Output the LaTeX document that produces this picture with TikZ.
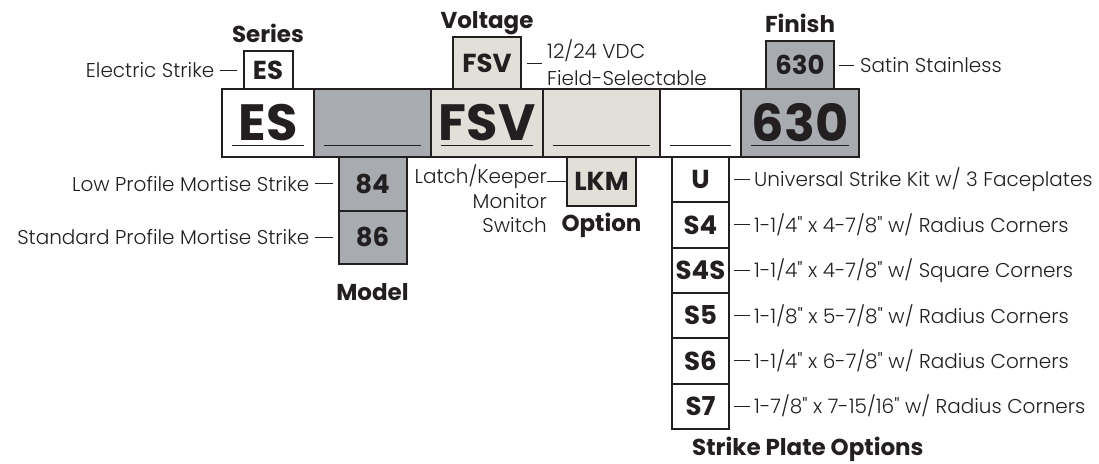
\documentclass[tikz,border=0pt]{standalone}
\usepackage{fontspec}
\setmainfont{Poppins}
\newfontfamily\lightfont{Poppins Light}
\usetikzlibrary{positioning}
\definecolor{partGray}{HTML}{A8ACB1}
\definecolor{partBeige}{HTML}{E0DFD8}
\definecolor{partInk}{HTML}{231F20}

\begin{document}
\begin{tikzpicture}[x=1pt, y=1pt, node distance=0pt,
    cell/.style={draw=partInk, line width=2pt, outer sep=0pt, inner sep=0pt,
      minimum height=68pt, text=partInk, font=\bfseries\fontsize{51}{51}\selectfont},
    pick/.style={draw=partInk, line width=2pt, outer sep=0pt, inner sep=0pt,
      text=partInk, font=\bfseries\fontsize{26}{26}\selectfont},
    head/.style={inner sep=0pt, text=partInk, font=\bfseries\fontsize{23}{23}\selectfont},
    note/.style={inner sep=0pt, text=partInk, font=\lightfont\fontsize{20}{24.5}\selectfont},
    tick/.style={draw=partInk, line width=1pt}]
  \fill[white] (0,0) rectangle (1099,-463);
  \useasboundingbox (0,0) rectangle (1099,-463);

  % part number row
  \node[cell, fill=white, minimum width=92pt, anchor=north west] (es) at (222,-89) {ES};
  \node[cell, fill=partGray, minimum width=117pt, right=of es] (model) {};
  \node[cell, fill=partBeige, minimum width=112pt, right=of model] (volt) {FSV};
  \node[cell, fill=partBeige, minimum width=117pt, right=of volt] (option) {};
  \node[cell, fill=white, minimum width=81pt, right=of option] (strike) {};
  \node[cell, fill=partGray, minimum width=118pt, right=of strike] (finish) {630};
  \foreach \c in {es, model, volt, option, strike, finish}
    \draw[partInk, line width=1pt] ([xshift=10pt, yshift=12pt]\c.south west)
      -- ([xshift=-10pt, yshift=12pt]\c.south east);

  % choices above the row
  \node[pick, fill=white, minimum width=49pt, minimum height=38pt, above=of es] (esPick) {ES};
  \node[pick, fill=partBeige, minimum width=68pt, minimum height=52pt, above=of volt] (voltPick) {FSV};
  \node[pick, fill=partGray, minimum width=68pt, minimum height=48pt, above=of finish] (finishPick) {630};

  % choices below the row
  \node[pick, fill=partGray, minimum width=68pt, minimum height=53.5pt, below=of model] (m84) {84};
  \node[pick, fill=partGray, minimum width=68pt, minimum height=53.5pt, below=of m84] (m86) {86};
  \node[pick, fill=partBeige, minimum width=69pt, minimum height=49pt, below=of option] (lkm) {LKM};
  \node[pick, fill=white, minimum width=57pt, minimum height=45.3pt, below=of strike] (sU) {U};
  \node[pick, fill=white, minimum width=57pt, minimum height=45.3pt, below=of sU] (sS4) {S4};
  \node[pick, fill=white, minimum width=57pt, minimum height=45.3pt, below=of sS4] (sS4S) {S4S};
  \node[pick, fill=white, minimum width=57pt, minimum height=45.3pt, below=of sS4S] (sS5) {S5};
  \node[pick, fill=white, minimum width=57pt, minimum height=45.3pt, below=of sS5] (sS6) {S6};
  \node[pick, fill=white, minimum width=57pt, minimum height=45.3pt, below=of sS6] (sS7) {S7};

  % headings
  \node[head, above=9pt of esPick.north, anchor=base] (seriesHead) {Series};
  \node[head, above=9pt of voltPick.north, anchor=base] (voltHead) {Voltage};
  \node[head, above=9pt of finishPick.north, anchor=base] (finishHead) {Finish};
  \node[head, below=36pt of m86.south, anchor=base] (modelHead) {Model};
  \node[head, below=25pt of lkm.south, anchor=base] (optionHead) {Option};
  \node[head, below=27pt of sS7.south west, anchor=base west, xshift=20pt] (strikeHead) {Strike Plate Options};

  % descriptions
  \node[note, left=29pt of esPick] (esNote) {Electric Strike};
  \draw[tick, shorten <=5pt, shorten >=7pt] (esNote) -- (esPick);
  \node[note, right=26pt of voltPick, align=left] (voltNote) {12/24 VDC\\[2.5pt]Field-Selectable};
  \draw[tick, shorten <=6pt, shorten >=5pt] (voltPick) -- (voltNote);
  \node[note, right=26pt of finishPick] (finishNote) {Satin Stainless};
  \draw[tick, shorten <=5pt, shorten >=6pt] (finishPick) -- (finishNote);
  \node[note, left=29pt of m84] (m84Note) {Low Profile Mortise Strike};
  \draw[tick, shorten <=5pt, shorten >=6pt] (m84Note) -- (m84);
  \node[note, left=29pt of m86] (m86Note) {Standard Profile Mortise Strike};
  \draw[tick, shorten <=5pt, shorten >=6pt] (m86Note) -- (m86);
  \node[note, left=20pt of lkm.west, anchor=north east, yshift=17pt, align=right] (lkmNote)
    {Latch/Keeper\\Monitor\\Switch};
  \draw[tick] (lkm.west) -- (lkm.west -| lkmNote.east);
  \node[note, right=25pt of sU] (sUNote) {Universal Strike Kit w/ 3 Faceplates};
  \node[note, right=25pt of sS4] (sS4Note) {1-1/4" x 4-7/8" w/ Radius Corners};
  \node[note, right=25pt of sS4S] (sS4SNote) {1-1/4" x 4-7/8" w/ Square Corners};
  \node[note, right=25pt of sS5] (sS5Note) {1-1/8" x 5-7/8" w/ Radius Corners};
  \node[note, right=25pt of sS6] (sS6Note) {1-1/4" x 6-7/8" w/ Radius Corners};
  \node[note, right=25pt of sS7] (sS7Note) {1-7/8" x 7-15/16" w/ Radius Corners};
  \foreach \s in {sU, sS4, sS4S, sS5, sS6, sS7}
    \draw[tick, shorten <=5pt, shorten >=4pt] (\s) -- (\s Note);
\end{tikzpicture}
\end{document}
